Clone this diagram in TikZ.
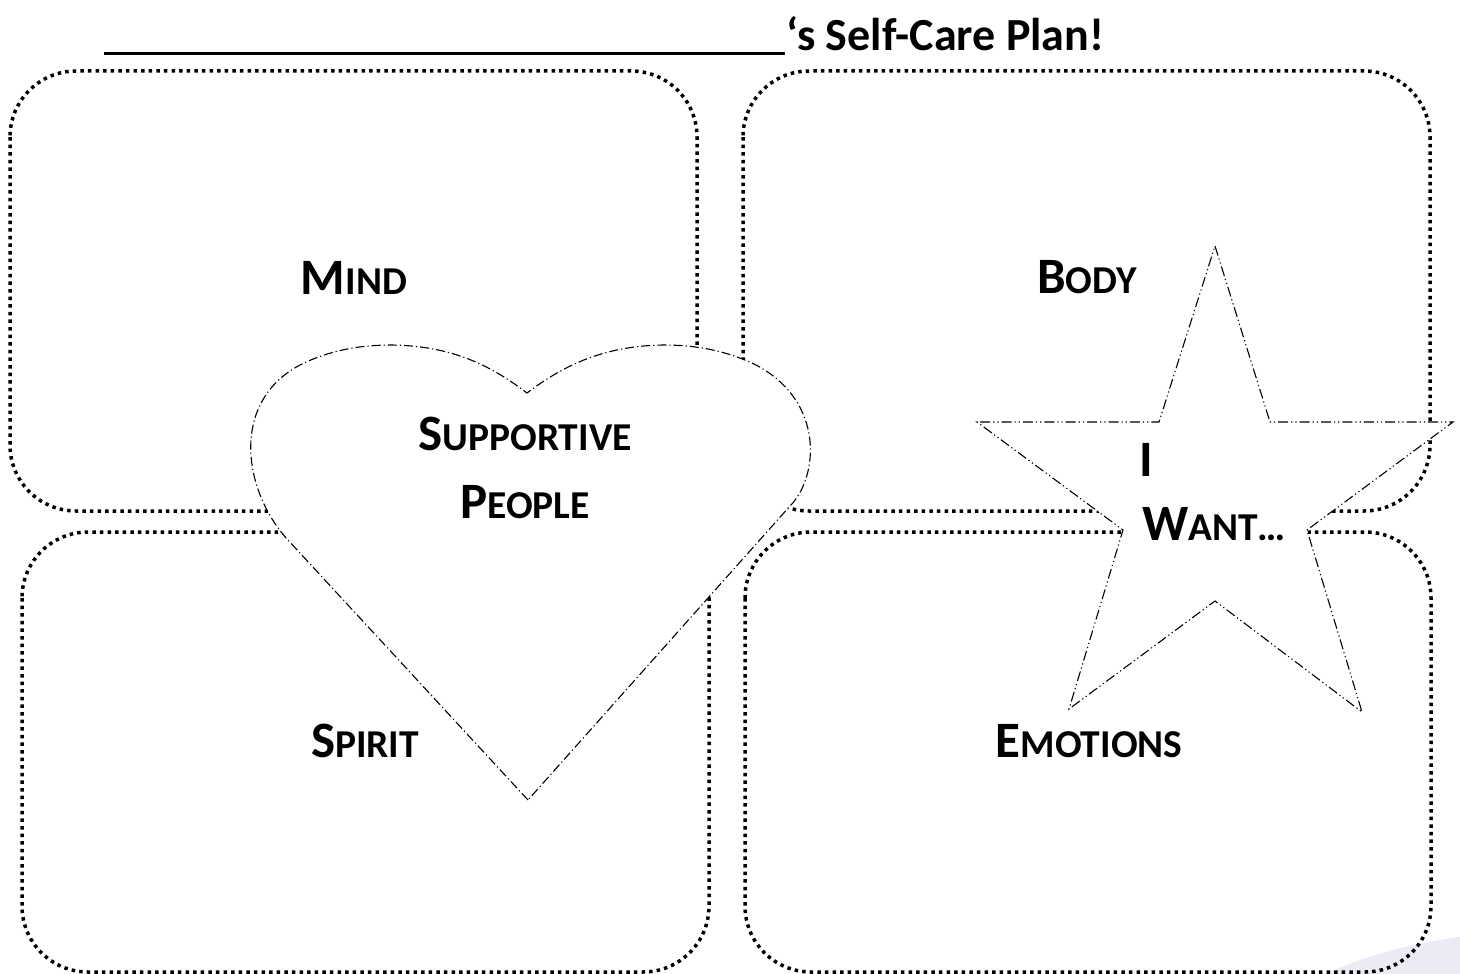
\documentclass[tikz,border=0pt]{standalone}
\usepackage{fontspec}
\setmainfont{Carlito}
\newcommand\smc[2]{#1{\fontsize{39.5}{44}\selectfont #2}}
\definecolor{lavender}{HTML}{EBEAF5}
\begin{document}
\begin{tikzpicture}[x=1pt,y=-1pt,
  box/.style={line width=3.5pt, dash pattern=on 3.5pt off 4.1pt, rounded corners=66pt},
  heartline/.style={line width=1.1pt, dash pattern=on 9pt off 3pt on 1.2pt off 3pt, fill=white},
  starline/.style={line width=1.1pt, dash pattern=on 10pt off 3pt on 1.2pt off 3pt on 1.2pt off 3pt, fill=white, line join=miter},
  lbl/.style={anchor=base, inner sep=0pt, font=\bfseries\fontsize{51}{56}\selectfont},
  lblw/.style={lbl, anchor=base west}]
\useasboundingbox (0,0) rectangle (1460,974);
% background shape
\fill[lavender] (1325,974) .. controls (1375,952) and (1415,943) .. (1460,937) -- (1460,974) -- cycle;
% title
\draw[line width=3pt] (104,53.5) -- (785,53.5);
\node[lblw, font=\bfseries\fontsize{46}{52}\selectfont] (title) at (786,51) {‘s Self-Care Plan!};
% boxes
\draw[box] (10,71) rectangle (697,511);
\draw[box] (743,71) rectangle (1430,511);
\draw[box] (22,532) rectangle (709,972);
\draw[box] (745,532) rectangle (1431,972);
% heart
\draw[heartline] (528,800) -- (287,539)
  .. controls (243,490) and (230,402) .. (300,365)
  .. controls (330,350) and (360,345) .. (392,345)
  .. controls (452,346) and (490,365) .. (527,393)
  .. controls (564,365) and (604,346) .. (663,345)
  .. controls (695,345) and (725,350) .. (756,365)
  .. controls (826,402) and (818,478) .. (790,506) -- cycle;
% star
\draw[starline] (1215,246) -- (1270,422) -- (1453,422) -- (1307,530) -- (1362,712)
  -- (1215,601) -- (1069,709) -- (1123,530) -- (977,422) -- (1159,422) -- cycle;
% labels
\node[lbl] (mind) at (354,294) {\smc{M}{IND}};
\node[lbl] (body) at (1087,293) {\smc{B}{ODY}};
\node[lbl] (supp) at (525,450) {\smc{S}{UPPORTIVE}};
\node[lbl] (people) at (525,518) {\smc{P}{EOPLE}};
\node[lblw] (i) at (1139,476) {I};
\node[lblw] (want) at (1142,540) {\smc{W}{ANT…}};
\node[lbl] (spirit) at (365,757) {\smc{S}{PIRIT}};
\node[lbl] (emotions) at (1089,757) {\smc{E}{MOTIONS}};
\end{tikzpicture}
\end{document}
